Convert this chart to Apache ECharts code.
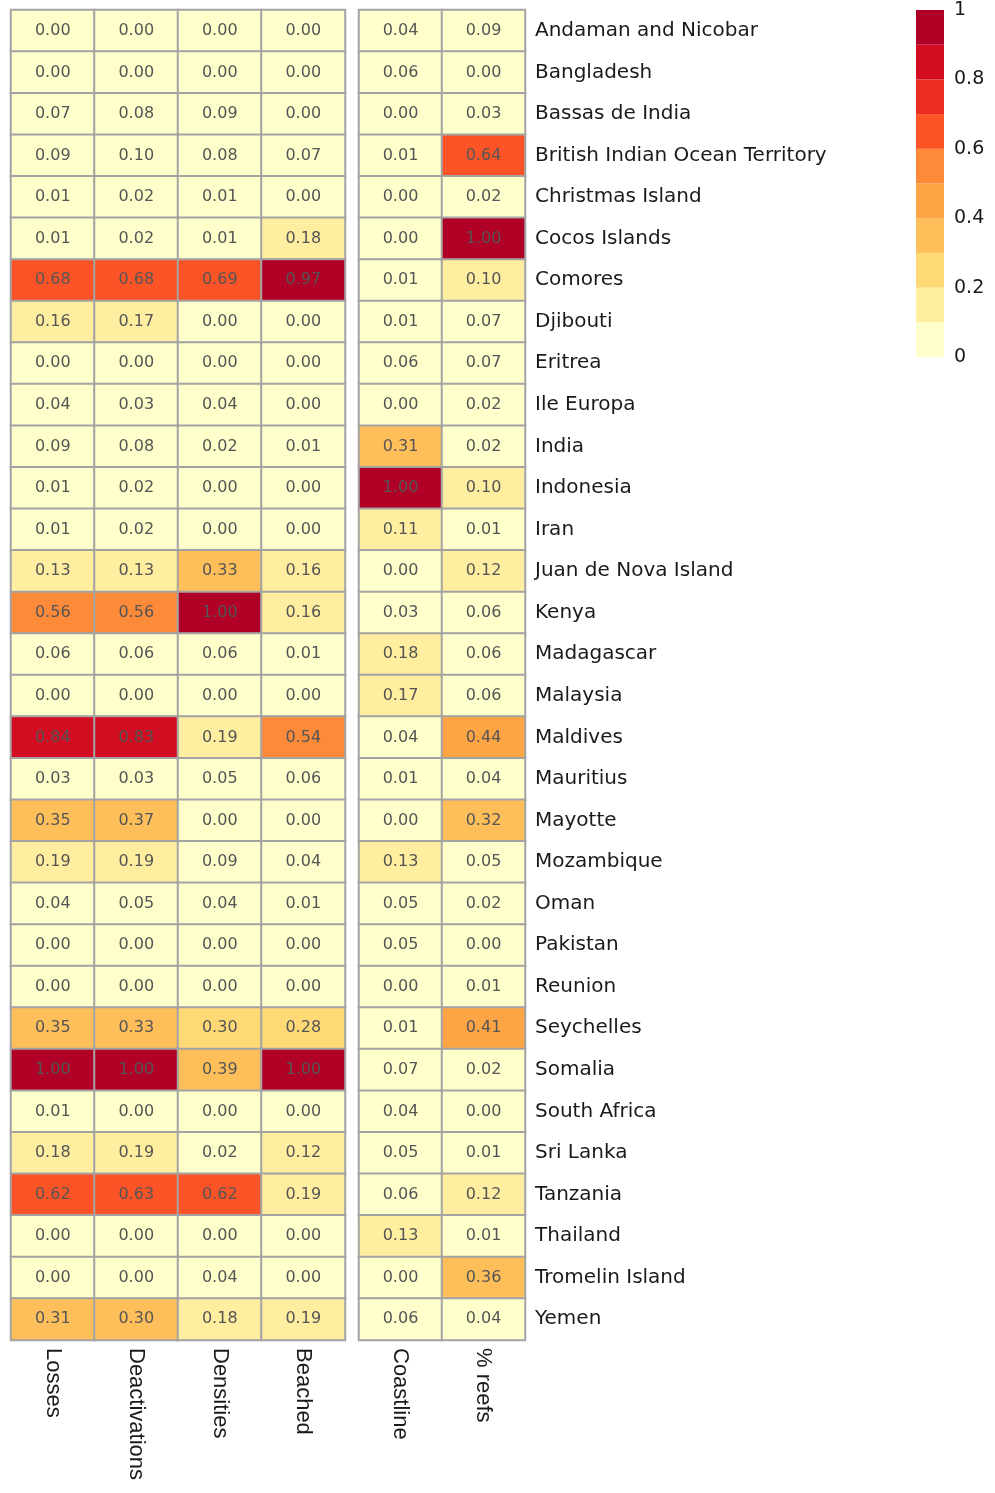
<!DOCTYPE html>
<html>
<head>
<meta charset="utf-8">
<script src="https://cdn.jsdelivr.net/npm/echarts@6/dist/echarts.min.js"></script>
<style>
  html, body { margin: 0; padding: 0; background: #fff; }
  #chart { width: 995px; height: 1493px; }
</style>
</head>
<body>
<div id="chart"></div>
<script>
var countries = ['Andaman and Nicobar', 'Bangladesh', 'Bassas de India', 'British Indian Ocean Territory',
  'Christmas Island', 'Cocos Islands', 'Comores', 'Djibouti', 'Eritrea', 'Ile Europa', 'India', 'Indonesia',
  'Iran', 'Juan de Nova Island', 'Kenya', 'Madagascar', 'Malaysia', 'Maldives', 'Mauritius', 'Mayotte',
  'Mozambique', 'Oman', 'Pakistan', 'Reunion', 'Seychelles', 'Somalia', 'South Africa', 'Sri Lanka',
  'Tanzania', 'Thailand', 'Tromelin Island', 'Yemen'];

var leftCols = ['Losses', 'Deactivations', 'Densities', 'Beached'];
var rightCols = ['Coastline', '% reefs'];

var losses = [0.00, 0.00, 0.07, 0.09, 0.01, 0.01, 0.68, 0.16, 0.00, 0.04, 0.09, 0.01, 0.01, 0.13, 0.56, 0.06,
  0.00, 0.84, 0.03, 0.35, 0.19, 0.04, 0.00, 0.00, 0.35, 1.00, 0.01, 0.18, 0.62, 0.00, 0.00, 0.31];
var deactivations = [0.00, 0.00, 0.08, 0.099, 0.02, 0.02, 0.68, 0.17, 0.00, 0.03, 0.08, 0.02, 0.02, 0.13, 0.56, 0.06,
  0.00, 0.83, 0.03, 0.37, 0.19, 0.05, 0.00, 0.00, 0.33, 1.00, 0.00, 0.19, 0.63, 0.00, 0.00, 0.302];
var densities = [0.00, 0.00, 0.09, 0.08, 0.01, 0.01, 0.69, 0.00, 0.00, 0.04, 0.02, 0.00, 0.00, 0.33, 1.00, 0.06,
  0.00, 0.19, 0.05, 0.00, 0.09, 0.04, 0.00, 0.00, 0.298, 0.39, 0.00, 0.02, 0.62, 0.00, 0.04, 0.18];
var beached = [0.00, 0.00, 0.00, 0.07, 0.00, 0.18, 0.97, 0.00, 0.00, 0.00, 0.01, 0.00, 0.00, 0.16, 0.16, 0.01,
  0.00, 0.54, 0.06, 0.00, 0.04, 0.01, 0.00, 0.00, 0.28, 1.00, 0.00, 0.12, 0.19, 0.00, 0.00, 0.19];
var coastline = [0.04, 0.06, 0.00, 0.01, 0.00, 0.00, 0.01, 0.01, 0.06, 0.00, 0.31, 1.00, 0.11, 0.00, 0.03, 0.18,
  0.17, 0.04, 0.01, 0.00, 0.13, 0.05, 0.05, 0.00, 0.01, 0.07, 0.04, 0.05, 0.06, 0.13, 0.00, 0.06];
var reefs = [0.09, 0.00, 0.03, 0.64, 0.02, 1.00, 0.101, 0.07, 0.07, 0.02, 0.02, 0.101, 0.01, 0.12, 0.06, 0.06,
  0.06, 0.44, 0.04, 0.32, 0.05, 0.02, 0.00, 0.01, 0.41, 0.02, 0.00, 0.01, 0.12, 0.01, 0.36, 0.04];

// one colour per 0.1 step, from 0 upwards
var bandColors = ['#ffffcc', '#ffeda0', '#fed976', '#febf5a', '#fda544', '#fd8a39',
  '#fc5426', '#ea2d1f', '#d20d21', '#b00026'];
var legendTicks = [0, 0.2, 0.4, 0.6, 0.8, 1];

function cells(cols) {
  var out = [];
  cols.forEach(function (col, ci) {
    col.forEach(function (v, ri) { out.push([ci, ri, v]); });
  });
  return out;
}

var pieces = bandColors.map(function (c, i) {
  var p = { gte: i / 10, lt: (i + 1) / 10, color: c };
  if (i === bandColors.length - 1) { delete p.lt; p.lte = 1; }
  return p;
});

var cellLabel = {
  show: true,
  fontFamily: 'DejaVu Sans',
  fontSize: 16,
  color: '#555',
  formatter: function (p) { return p.value[2].toFixed(2); }
};
var cellStyle = { borderColor: '#a3a3a3', borderWidth: 2 };

var colLabel = {
  rotate: -90,
  fontFamily: 'Liberation Sans',
  fontSize: 22,
  color: '#1a1a1a',
  margin: 8
};

var chart = echarts.init(document.getElementById('chart'));
chart.setOption({
  animation: false,
  grid: [
    { left: 11, top: 10, width: 334, height: 1330 },
    { left: 359, top: 10, width: 166, height: 1330 },
    { left: 916, top: 10, width: 28, height: 347 }
  ],
  xAxis: [
    { type: 'category', gridIndex: 0, data: leftCols, axisLine: { show: false }, axisTick: { show: false },
      axisLabel: colLabel },
    { type: 'category', gridIndex: 1, data: rightCols, axisLine: { show: false }, axisTick: { show: false },
      axisLabel: colLabel },
    { type: 'category', gridIndex: 2, data: [''], show: false }
  ],
  yAxis: [
    { type: 'category', gridIndex: 0, data: countries, inverse: true, show: false },
    { type: 'category', gridIndex: 1, data: countries, inverse: true, position: 'right',
      axisLine: { show: false }, axisTick: { show: false },
      axisLabel: { fontFamily: 'DejaVu Sans', fontSize: 20, color: '#1a1a1a', margin: 10 } },
    { type: 'value', gridIndex: 2, min: 0, max: 1, interval: 0.2, position: 'right',
      axisLine: { show: false }, axisTick: { show: false }, splitLine: { show: false },
      axisLabel: { fontFamily: 'DejaVu Sans', fontSize: 19, color: '#1a1a1a', margin: 10,
        formatter: function (v) { return legendTicks.indexOf(+v.toFixed(1)) >= 0 ? String(+v.toFixed(1)) : ''; } } }
  ],
  visualMap: {
    type: 'piecewise',
    show: false,
    seriesIndex: [0, 1],
    dimension: 2,
    pieces: pieces
  },
  series: [
    { type: 'heatmap', xAxisIndex: 0, yAxisIndex: 0,
      data: cells([losses, deactivations, densities, beached]),
      label: cellLabel, itemStyle: cellStyle },
    { type: 'heatmap', xAxisIndex: 1, yAxisIndex: 1,
      data: cells([coastline, reefs]),
      label: cellLabel, itemStyle: cellStyle }
  ].concat(bandColors.map(function (c) {
    return { type: 'bar', xAxisIndex: 2, yAxisIndex: 2, stack: 'key', barWidth: '100%',
      data: [0.1], itemStyle: { color: c } };
  }))
});
</script>
</body>
</html>
